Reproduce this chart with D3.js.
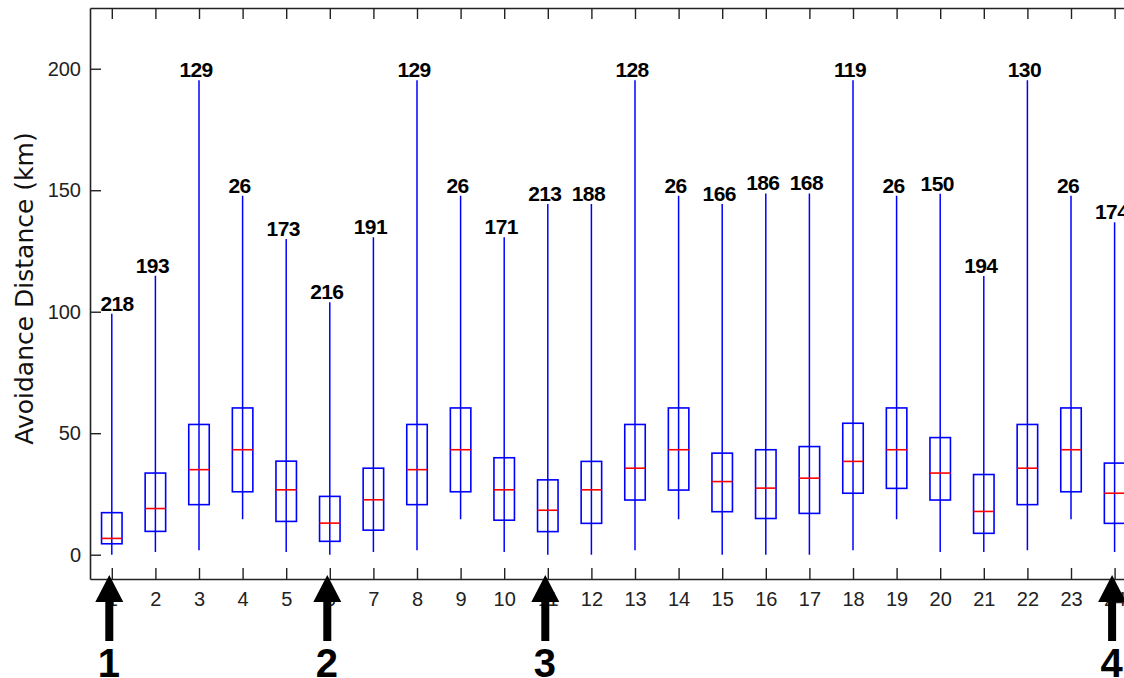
<!DOCTYPE html>
<html>
<head>
<meta charset="utf-8">
<script src="https://cdn.jsdelivr.net/npm/d3@7"></script>
<style>
  html, body { margin: 0; padding: 0; background: #fff; }
  svg { display: block; }
</style>
</head>
<body>
<svg id="chart" width="1124" height="678"></svg>
<script>
// ---- data ----
const categories   = [1,2,3,4,5,6,7,8,9,10,11,12,13,14,15,16,17,18,19,20,21,22,23,24];
const whiskerLow   = [0, 1.1, 1.8, 14.6, 1.1, 0, 1.1, 1.8, 14.6, 1.1, 0, 0, 1.8, 14.6, 0, 0, 0, 1.8, 14.6, 1.1, 1.1, 1.8, 14.6, 1.1];
const q1           = [4.5, 9.6, 20.6, 25.9, 13.7, 5.5, 10.1, 20.6, 25.9, 14.2, 9.5, 12.9, 22.5, 26.6, 17.7, 14.9, 17.0, 25.3, 27.3, 22.5, 8.8, 20.6, 25.9, 12.9];
const medians      = [6.7, 19.0, 35.0, 43.2, 26.7, 13.0, 22.6, 35.0, 43.2, 26.7, 18.3, 26.7, 35.6, 43.2, 30.1, 27.4, 31.5, 38.4, 43.2, 33.6, 17.8, 35.6, 43.2, 25.3];
const q3           = [17.3, 33.6, 53.6, 60.4, 38.5, 24.0, 35.6, 53.6, 60.4, 39.9, 30.8, 38.4, 53.6, 60.4, 41.8, 43.2, 44.5, 54.1, 60.4, 48.2, 33.0, 53.6, 60.4, 37.7];
const whiskerHigh  = [99.2, 114.8, 195.3, 147.7, 129.9, 103.9, 130.6, 195.3, 147.7, 130.6, 144.3, 144.3, 195.3, 147.7, 144.3, 148.7, 148.7, 195.3, 147.7, 148.6, 114.7, 195.3, 147.7, 136.8];
const countLabels  = ["218","193","129","26","173","216","191","129","26","171","213","188","128","26","166","186","168","119","26","150","194","130","26","174"];
const yTicks       = [0, 50, 100, 150, 200];
const arrowAt      = [1, 6, 11, 24];
const arrowLabels  = ["1", "2", "3", "4"];
const yLabel       = "Avoidance Distance (km)";

(function () {
// ---- layout ----
const svg = d3.select("#chart");
const left = 90, plotTop = 8, plotBottom = 579;
const x = d3.scaleLinear().domain([0.5, 24.5]).range([left, left + 24 * 43.6]);
const y = d3.scaleLinear().domain([-10, 225]).range([plotBottom, plotTop]);
const axisColor = "#222";
const blue = "#0000ff", red = "#ff0000";
const boxW = 0.47;

const rows = categories.map((c, i) => ({
  c, lo: whiskerLow[i], q1: q1[i], med: medians[i], q3: q3[i], hi: whiskerHigh[i], label: countLabels[i]
}));

// ---- axes ----
const gx = svg.append("g").attr("transform", `translate(0,${plotBottom})`)
  .call(d3.axisBottom(x).tickValues(categories).tickFormat(d3.format("d"))
        .tickSizeInner(-11).tickSizeOuter(0).tickPadding(13));
const gxTop = svg.append("g").attr("transform", `translate(0,${plotTop})`)
  .call(d3.axisTop(x).tickValues(categories).tickFormat("")
        .tickSizeInner(-11).tickSizeOuter(0));
const gy = svg.append("g").attr("transform", `translate(${left},0)`)
  .call(d3.axisLeft(y).tickValues(yTicks).tickFormat(d3.format("d"))
        .tickSizeInner(-11).tickSizeOuter(0).tickPadding(9));

[gx, gxTop, gy].forEach(g => {
  g.select(".domain").attr("stroke", axisColor).attr("stroke-width", 1.6);
  g.selectAll(".tick line").attr("stroke", axisColor).attr("stroke-width", 1.4);
  g.selectAll(".tick text")
    .attr("fill", "#222")
    .style("font-family", "'Liberation Sans', Arial, sans-serif")
    .style("font-size", "20px");
});

// y label
svg.append("text")
  .attr("transform", `translate(33,${(plotTop + plotBottom) / 2 - 5}) rotate(-90)`)
  .attr("text-anchor", "middle")
  .style("font-family", "'DejaVu Sans', sans-serif")
  .style("font-size", "25px")
  .attr("fill", "#111")
  .text(yLabel);

// ---- boxes ----
const g = svg.append("g");
const bw = x(1 + boxW / 2) - x(1 - boxW / 2);

g.selectAll("line.whisker").data(rows).join("line")
  .attr("class", "whisker")
  .attr("x1", d => x(d.c)).attr("x2", d => x(d.c))
  .attr("y1", d => y(d.lo)).attr("y2", d => y(d.hi))
  .attr("stroke", blue).attr("stroke-width", 1.5);

g.selectAll("rect.box").data(rows).join("rect")
  .attr("class", "box")
  .attr("x", d => x(d.c) - bw / 2)
  .attr("width", bw)
  .attr("y", d => y(d.q3))
  .attr("height", d => y(d.q1) - y(d.q3))
  .attr("fill", "none").attr("stroke", blue).attr("stroke-width", 1.6);

g.selectAll("line.median").data(rows).join("line")
  .attr("class", "median")
  .attr("x1", d => x(d.c) - bw / 2).attr("x2", d => x(d.c) + bw / 2)
  .attr("y1", d => y(d.med)).attr("y2", d => y(d.med))
  .attr("stroke", red).attr("stroke-width", 1.6);

g.selectAll("text.count").data(rows).join("text")
  .attr("class", "count")
  .attr("x", d => Math.max(x(d.c) - 3, left + 27))
  .attr("y", d => y(d.hi) - 3)
  .attr("text-anchor", "middle")
  .style("font-family", "'Liberation Sans', Arial, sans-serif")
  .style("font-weight", "bold")
  .style("font-size", "21px")
  .style("letter-spacing", "-0.6px")
  .attr("fill", "#000")
  .text(d => d.label);

// ---- arrows ----
const arrows = svg.append("g");
const arrowData = arrowAt.map((a, i) => ({ a, label: arrowLabels[i] }));
arrows.selectAll("path").data(arrowData).join("path")
  .attr("d", d => {
    const cx = x(d.a) - 2.5;
    const tip = plotBottom - 4;
    const headB = tip + 27;
    const shaftB = tip + 66;
    return `M${cx},${tip} L${cx + 14},${headB} L${cx + 4},${headB} L${cx + 4},${shaftB} L${cx - 4},${shaftB} L${cx - 4},${headB} L${cx - 14},${headB} Z`;
  })
  .attr("fill", "#000");

arrows.selectAll("text").data(arrowData).join("text")
  .attr("x", d => x(d.a) - 3)
  .attr("y", 677)
  .attr("text-anchor", "middle")
  .style("font-family", "'Liberation Sans', Arial, sans-serif")
  .style("font-weight", "bold")
  .style("font-size", "40px")
  .attr("fill", "#000")
  .text(d => d.label);
})();
</script>
</body>
</html>
